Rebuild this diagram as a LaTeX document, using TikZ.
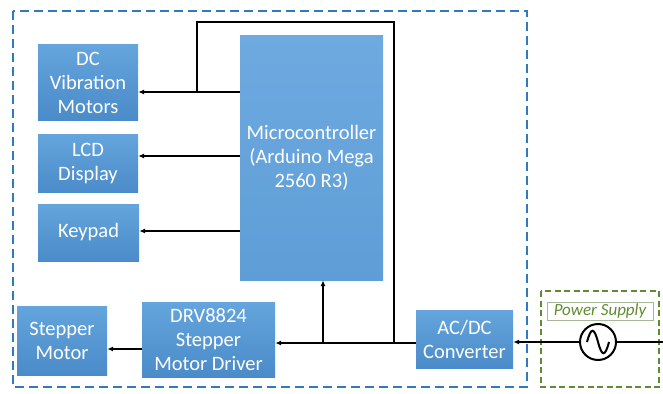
\documentclass[tikz,border=0pt]{standalone}
\usepackage{fontspec}
\setmainfont{Carlito}
\usetikzlibrary{arrows.meta}
\definecolor{boxtop}{HTML}{64A5DD}
\definecolor{boxbot}{HTML}{4A8BC9}
\definecolor{mcutop}{HTML}{6EAAE0}
\definecolor{mcubot}{HTML}{5E9DD6}
\definecolor{outerblue}{HTML}{2E7BBF}
\definecolor{psgreen}{HTML}{5F8C30}
\definecolor{pslabeledge}{HTML}{A7B79A}
\tikzset{
  blk/.style={rectangle, top color=boxtop, bottom color=boxbot, draw=none,
    text=white, font=\fontsize{20.5}{24}\selectfont, align=center, inner sep=0pt},
  wire/.style={line width=2.2pt, black},
  arr/.style={wire, -{Latex[length=6pt,width=5pt]}},
}
\begin{document}
\begin{tikzpicture}[x=1pt,y=-1pt]
\useasboundingbox (0,0) rectangle (663,393);
% outer dashed box
\draw[outerblue, line width=2.6pt, dash pattern=on 9pt off 5pt] (13,11) rectangle (527,387);
% power supply box
\draw[psgreen, line width=1.5pt, dash pattern=on 6pt off 3.5pt] (541,291) rectangle (659,387);

% blocks
\node[blk, minimum width=100pt, minimum height=75pt] (dc) at (88,82.5) {DC\\Vibration\\Motors};
\node[blk, minimum width=100pt, minimum height=58pt] (lcd) at (88,163.5) {LCD\\Display};
\node[blk, minimum width=101pt, minimum height=57pt] (key) at (88.5,232.5) {Keypad};
\node[blk, top color=mcutop, bottom color=mcubot, minimum width=143pt, minimum height=244pt] (mcu) at (311.5,158) {Microcontroller\\(Arduino Mega\\2560 R3)};
\node[blk, minimum width=90pt, minimum height=69pt] (stm) at (62,340.5) {Stepper\\Motor};
\node[blk, minimum width=133pt, minimum height=75pt] (drv) at (208.5,339.5) {DRV8824\\Stepper\\Motor Driver};
\node[blk, minimum width=97pt, minimum height=58pt] (acdc) at (464.5,339) {AC/DC\\Converter};

\node[draw=pslabeledge, line width=0.8pt, minimum width=106pt, minimum height=18pt, inner sep=0pt,
  text=psgreen, font=\fontsize{17}{20}\selectfont\itshape] (psl) at (600,311) {Power Supply};
\node[circle, draw=black, line width=2pt, minimum size=36pt, inner sep=0pt] (ac) at (598,342) {};
\draw[line width=2pt] ([xshift=-11pt]ac.center) .. controls +(4,-15) and +(-4,-15) .. (ac.center)
  .. controls +(4,15) and +(-4,15) .. ([xshift=11pt]ac.center);

% junction coordinates
\coordinate (jdc) at (197,92);
\coordinate (tl) at (197,22);
\coordinate (tr) at (394,22);
\coordinate (jb) at (394,343);
\coordinate (jm) at (323,343);
\coordinate (ylcd) at (0,156);
\coordinate (ykey) at (0,231);
\coordinate (ystm) at (0,349);
\coordinate (pin) at (663,342);

% connectors
\draw[arr] (mcu.west |- jdc) -- (dc.east |- jdc);
\draw[wire] (jdc) -- (tl) -- (tr) -- (jb);
\draw[arr] (mcu.west |- ylcd) -- (lcd.east |- ylcd);
\draw[arr] (mcu.west |- ykey) -- (key.east |- ykey);
\draw[arr] (acdc.west |- jb) -- (drv.east |- jb);
\draw[arr] (jm) -- (mcu.south -| jm);
\draw[arr] (drv.west |- ystm) -- (stm.east |- ystm);
\draw[arr] (ac.west) -- (acdc.east |- ac.west);
\draw[wire] (pin) -- (ac.east);
\end{tikzpicture}
\end{document}
